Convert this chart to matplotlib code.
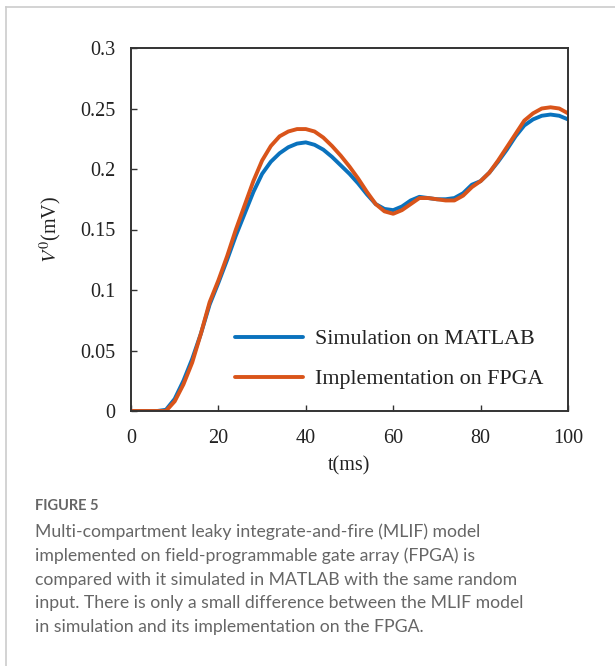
import matplotlib
matplotlib.use("Agg")
import matplotlib.pyplot as plt
from matplotlib.lines import Line2D

t_ms = [0, 2, 4, 6, 8, 10, 12, 14, 16, 18, 20, 22, 24, 26, 28, 30, 32, 34, 36, 38, 40,
        42, 44, 46, 48, 50, 52, 54, 56, 58, 60, 62, 64, 66, 68, 70, 72, 74, 76, 78, 80,
        82, 84, 86, 88, 90, 92, 94, 96, 98, 100]
matlab_v = [0, 0, 0, 0, 0.001, 0.010, 0.025, 0.043, 0.064, 0.088, 0.106, 0.125, 0.145,
            0.163, 0.181, 0.196, 0.206, 0.213, 0.218, 0.221, 0.222, 0.220, 0.216, 0.210,
            0.203, 0.196, 0.188, 0.179, 0.171, 0.167, 0.166, 0.169, 0.174, 0.177, 0.176,
            0.175, 0.175, 0.176, 0.180, 0.187, 0.190, 0.197, 0.206, 0.216, 0.227, 0.236,
            0.241, 0.244, 0.245, 0.244, 0.241]
fpga_v = [0, 0, 0, 0, 0, 0.008, 0.022, 0.040, 0.064, 0.090, 0.108, 0.128, 0.150, 0.170,
          0.190, 0.207, 0.219, 0.227, 0.231, 0.233, 0.233, 0.231, 0.226, 0.219, 0.211,
          0.202, 0.192, 0.181, 0.171, 0.165, 0.163, 0.166, 0.171, 0.176, 0.176, 0.175,
          0.174, 0.174, 0.178, 0.185, 0.190, 0.197, 0.207, 0.218, 0.229, 0.240, 0.246,
          0.250, 0.251, 0.250, 0.246]
series_labels = ["Simulation on MATLAB", "Implementation on FPGA"]
x_ticks = [0, 20, 40, 60, 80, 100]
y_ticks = [0, 0.05, 0.1, 0.15, 0.2, 0.25, 0.3]
y_tick_labels = ["0", "0.05", "0.1", "0.15", "0.2", "0.25", "0.3"]
caption_title = "FIGURE 5"
caption_lines = [
    "Multi-compartment leaky integrate-and-fire (MLIF) model",
    "implemented on field-programmable gate array (FPGA) is",
    "compared with it simulated in MATLAB with the same random",
    "input. There is only a small difference between the MLIF model",
    "in simulation and its implementation on the FPGA.",
]

plt.rcParams["mathtext.fontset"] = "stix"

W, H = 615, 666
fig = plt.figure(figsize=(W / 100, H / 100), dpi=100)
fig.patch.set_facecolor("white")

# card border
fig.add_artist(Line2D([6 / W, 6 / W], [0, 1 - 7 / H], transform=fig.transFigure,
                      color="#cccccc", lw=1.2))
fig.add_artist(Line2D([6 / W, 1], [1 - 7 / H, 1 - 7 / H], transform=fig.transFigure,
                      color="#cccccc", lw=1.2))

ax = fig.add_axes([131 / W, 1 - 411 / H, (568 - 131) / W, (411 - 48) / H])
serif = "Liberation Serif"
blue = "#0a72bd"
orange = "#d9541a"
ax.plot(t_ms, matlab_v, color=blue, lw=2.8, label=series_labels[0], solid_capstyle="round")
ax.plot(t_ms, fpga_v, color=orange, lw=2.8, label=series_labels[1], solid_capstyle="round")
ax.set_xlim(0, 100)
ax.set_ylim(0, 0.3)
ax.set_xticks(x_ticks)
ax.set_yticks(y_ticks)
ax.set_yticklabels(y_tick_labels)
ax.tick_params(direction="in", length=4, width=1, colors="#333333", labelcolor="#222222",
               labelsize=14.5)
ax.tick_params(axis="x", pad=13)
ax.tick_params(axis="y", pad=11)
for lab in ax.get_xticklabels() + ax.get_yticklabels():
    lab.set_fontfamily(serif)
for sp in ax.spines.values():
    sp.set_color("#333333")
    sp.set_linewidth(1.4)
ax.set_xlabel("t(ms)", fontfamily=serif, fontsize=14.5, color="#222222", labelpad=6)
ax.set_ylabel(r"$V^0$(mV)", fontfamily=serif, fontsize=14.5, color="#222222", labelpad=12)

leg = ax.legend(loc="upper left", bbox_to_anchor=((235 - 131) / 437, (411 - 329) / 363),
                frameon=False, prop={"family": serif, "size": 15.8}, handlelength=3.1,
                labelspacing=0.9, handletextpad=0.55, borderpad=0, borderaxespad=0)
for txt in leg.get_texts():
    txt.set_color("#222222")

fig.text(35 / W, 1 - 506 / H, caption_title, fontfamily="Lato", fontsize=10.5,
         color="#666666", va="center", fontweight="bold")
for i, line in enumerate(caption_lines):
    fig.text(35 / W, 1 - (532 + 23.8 * i) / H, line, fontfamily="Lato", fontsize=12.7,
             color="#666666", va="center")

fig.savefig("out.png", dpi=100, facecolor="white")
